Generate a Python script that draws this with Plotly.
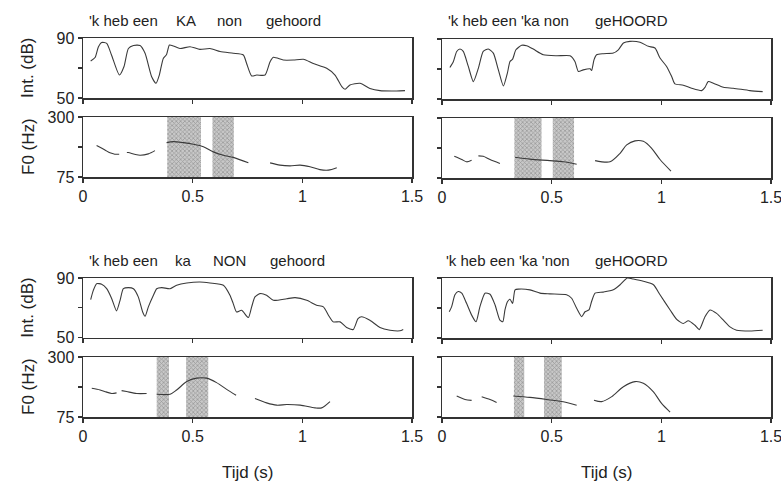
import plotly.graph_objects as go
import numpy as np

W, H = 781, 485

# ---------------- data ----------------
# Panel A (top-left): 'k heb een KA non gehoord
a_int_t = [0.035,0.055,0.07,0.085,0.108,0.13,0.166,0.187,0.207,0.23,0.26,0.283,0.313,0.333,0.348,0.366,0.381,0.394,0.412,0.442,0.488,0.533,0.579,0.625,0.685,0.731,0.746,0.769,0.792,0.83,0.853,0.868,0.913,0.959,1.005,1.05,1.111,1.149,1.18,1.195,1.217,1.263,1.308,1.354,1.43,1.468]
a_int_db = [74.7,77,84,87,86.4,78.7,65.3,71,83,85,85,79.8,64.2,59.8,65.3,76.4,79,85.3,84.7,83,84.2,82.4,83,81,79.8,78.7,73,64.7,65.3,65.3,74.2,77.1,75.3,75.3,75.8,73,69.8,65.3,57.6,55.8,58.7,59.8,56.4,54.9,54.7,54.9]
a_f0_segments = [
    ([0.062,0.1,0.123,0.145,0.165],[155,140,131,127,127]),
    ([0.2,0.207,0.235,0.26,0.298,0.328],[132,132,127,124,128,138]),
    ([0.381,0.412,0.457,0.503,0.549,0.594,0.64,0.685,0.754],[166,170,166,160,151,134,124,118,104]),
    ([0.853,0.898,0.944,0.99,1.035,1.08,1.119,1.157],[104,98.6,97,98.6,95,89,88,93]),
]
a_hatch = [(0.384,0.538),(0.59,0.688)]
a_words = ["'k heb een","KA","non","gehoord"]
a_word_t = [0.183,0.468,0.67,0.958]

# Panel B (top-right): 'k heb een 'ka non geHOORD
b_int_t = [0.036,0.052,0.067,0.082,0.097,0.12,0.143,0.166,0.188,0.211,0.234,0.257,0.28,0.298,0.31,0.322,0.337,0.363,0.386,0.416,0.462,0.523,0.584,0.606,0.622,0.644,0.675,0.682,0.693,0.705,0.736,0.781,0.804,0.827,0.857,0.903,0.941,0.971,0.994,1.024,1.047,1.062,1.1,1.138,1.184,1.199,1.214,1.237,1.283,1.328,1.404,1.462]
b_int_db = [71,75,81.7,83.3,81.7,71.7,61.6,70.6,81.7,83.3,80.6,69.4,58.7,67.2,75,76.6,82.8,85.8,85.5,83.3,79.5,78.8,78.8,75,68.3,69.4,70.1,69,76.1,79.5,80.2,80.6,82.8,87.3,88.4,87.8,85.1,84,77.3,71.7,65,60.1,59.2,57.2,55.6,57.8,61.6,60.5,57.8,57.2,55.6,54.9]
b_f0_segments = [
    ([0.056,0.09,0.112,0.135],[124,115,109,113]),
    ([0.166,0.188,0.219,0.264],[125,124,115,105]),
    ([0.333,0.401,0.492,0.553,0.614],[121,116,112,109,103]),
    ([0.698,0.766,0.811,0.842,0.88,0.918,0.956,0.994,1.044],[112,109,132,161,177,175,149,115,88]),
]
b_hatch = [(0.33,0.454),(0.505,0.602)]
b_words = ["'k heb een 'ka non","geHOORD"]
b_word_t = [0.302,0.865]

# Panel C (bottom-left): 'k heb een ka NON gehoord
c_int_t = [0.035,0.047,0.062,0.085,0.108,0.131,0.153,0.169,0.184,0.207,0.23,0.252,0.272,0.283,0.298,0.321,0.336,0.359,0.397,0.427,0.473,0.533,0.579,0.64,0.67,0.685,0.7,0.723,0.754,0.769,0.784,0.807,0.837,0.868,0.929,0.967,1.02,1.065,1.096,1.119,1.141,1.172,1.202,1.232,1.254,1.27,1.308,1.354,1.4,1.445,1.46]
c_int_db = [75.5,81.7,86.2,85.8,82.8,76.1,67.9,75,82.8,83.5,82.8,77.3,67.2,64.3,70.6,78.4,82.8,83.5,82.8,85.1,86.6,87.3,86.6,85.1,78.4,72.8,67.2,68.3,63.4,70.6,77.3,79.5,78.4,75,76.1,76.8,75,71.7,70.6,65,60.5,60.5,56.7,55.4,62.7,63.9,61.6,56.7,54.9,54.5,55.4]
c_f0_segments = [
    ([0.04,0.078,0.105,0.131,0.153],[145.5,140,134,129,131]),
    ([0.176,0.199,0.245,0.29],[138,135,129,129]),
    ([0.336,0.397,0.427,0.473,0.518,0.564,0.609,0.655,0.698],[127,127,140,170,184,184,166,142,124]),
    ([0.784,0.837,0.883,0.929,0.99,1.058,1.088,1.126],[115,104,98.6,100,98.6,92.6,92.6,107]),
]
c_hatch = [(0.336,0.392),(0.47,0.571)]
c_words = ["'k heb een","ka","NON","gehoord"]
c_word_t = [0.183,0.456,0.67,0.976]

# Panel D (bottom-right): 'k heb een 'ka 'non geHOORD
d_int_t = [0.033,0.044,0.059,0.074,0.09,0.112,0.135,0.155,0.173,0.196,0.219,0.242,0.264,0.277,0.287,0.299,0.31,0.322,0.333,0.348,0.401,0.447,0.492,0.568,0.591,0.614,0.637,0.652,0.67,0.682,0.698,0.736,0.781,0.812,0.845,0.872,0.918,0.964,0.994,1.04,1.07,1.1,1.123,1.153,1.173,1.199,1.222,1.252,1.283,1.313,1.343,1.404,1.462]
d_int_db = [67.5,70.9,78.8,81,79.9,73.1,65.3,60.8,70.9,79.9,79.2,72,61.9,60.8,68.7,74.3,75.8,73.1,82.1,82.6,82.1,79.9,79.4,78.8,76.5,69.8,64.2,67.5,68.7,74.3,79.9,80.6,82.1,85.5,90,89.3,87.8,85.5,78.8,68.7,62.4,59.7,61.5,58.5,55.6,64.2,68.7,66.4,61.9,57.4,55.2,54.7,55.2]
d_f0_segments = [
    ([0.067,0.105,0.135],[122,112.5,110]),
    ([0.181,0.219,0.249],[120,112.5,105]),
    ([0.325,0.401,0.477,0.553,0.614],[122,118,112.5,106.6,98.6]),
    ([0.693,0.728,0.774,0.827,0.88,0.918,0.964,1.002,1.04],[110.7,107,120,151,170,163.5,134,102,84]),
]
d_hatch = [(0.328,0.375),(0.465,0.546)]
d_words = ["'k heb een 'ka 'non","geHOORD"]
d_word_t = [0.302,0.865]

x_ticks = [0, 0.5, 1, 1.5]
x_ticktext = ["0", "0.5", "1", "1.5"]
int_ticks = [50, 70, 90]
int_ticktext = ["50", "", "90"]
f0_ticks = [75, 150, 300]
f0_ticktext = ["75", "", "300"]
x_title = "Tijd (s)"
int_title = "Int. (dB)"
f0_title = "F0 (Hz)"

# ---------------- layout (pixel geometry) ----------------
panels = [
    dict(x0=83, x1=412, int_y=(38, 98), f0_y=(117, 177), text_y=20.5, left=True, bottom=False,
         it=a_int_t, idb=a_int_db, segs=a_f0_segments, hatch=a_hatch, words=a_words, wt=a_word_t),
    dict(x0=442, x1=771, int_y=(39, 99), f0_y=(118, 178), text_y=20.5, left=False, bottom=False,
         it=b_int_t, idb=b_int_db, segs=b_f0_segments, hatch=b_hatch, words=b_words, wt=b_word_t),
    dict(x0=83, x1=412, int_y=(278, 337.5), f0_y=(357, 417), text_y=260.5, left=True, bottom=True,
         it=c_int_t, idb=c_int_db, segs=c_f0_segments, hatch=c_hatch, words=c_words, wt=c_word_t),
    dict(x0=442, x1=771, int_y=(278, 338), f0_y=(357, 417), text_y=260.5, left=False, bottom=True,
         it=d_int_t, idb=d_int_db, segs=d_f0_segments, hatch=d_hatch, words=d_words, wt=d_word_t),
]

FONT = "Liberation Sans, Arial, Helvetica, sans-serif"
LINE = "#333333"
CURVE = "#3a3a3a"

fig = go.Figure()
layout = dict(width=W, height=H, margin=dict(l=0, r=0, t=0, b=0, pad=0, autoexpand=False),
              paper_bgcolor="white", plot_bgcolor="white", showlegend=False,
              font=dict(family=FONT, size=16, color="#222"))
annotations = []

def py(v):
    return 1 - v / H

ax_i = 0
for p in panels:
    xdom = [p["x0"] / W, p["x1"] / W]
    for kind in ("int", "f0"):
        ax_i += 1
        xa = "xaxis" if ax_i == 1 else f"xaxis{ax_i}"
        ya = "yaxis" if ax_i == 1 else f"yaxis{ax_i}"
        xr = "x" if ax_i == 1 else f"x{ax_i}"
        yr = "y" if ax_i == 1 else f"y{ax_i}"
        ylo, yhi = p[kind + "_y"]
        common = dict(showgrid=False, zeroline=False, showline=True, linecolor=LINE, linewidth=1.5,
                      mirror=True, ticks="outside", ticklen=4, tickwidth=1.2, tickcolor=LINE,
                      automargin=False, ticklabeloverflow="allow",
                      tickfont=dict(family=FONT, size=16, color="#222"))
        xaxis = dict(common, domain=xdom, range=[0, 1.5], tickvals=x_ticks, anchor=yr,
                     ticktext=x_ticktext if kind == "f0" else [""] * 4)
        if kind == "int":
            yaxis = dict(common, domain=[py(yhi), py(ylo)], range=[50, 90], tickvals=int_ticks,
                         ticktext=int_ticktext if p["left"] else [""] * 3, anchor=xr)
        else:
            yaxis = dict(common, domain=[py(yhi), py(ylo)], type="log",
                         range=[np.log10(75), np.log10(300)], tickvals=f0_ticks,
                         ticktext=f0_ticktext if p["left"] else [""] * 3, anchor=xr)
        layout[xa] = xaxis
        layout[ya] = yaxis

        if kind == "int":
            fig.add_trace(go.Scatter(x=p["it"], y=p["idb"], mode="lines", xaxis=xr, yaxis=yr,
                                     line=dict(color=CURVE, width=1.1, shape="spline", smoothing=0.6),
                                     hoverinfo="skip"))
            for w, t in zip(p["words"], p["wt"]):
                annotations.append(dict(text=w, x=t, xref=xr, y=py(p["text_y"]), yref="paper",
                                        showarrow=False, xanchor="center", yanchor="middle",
                                        font=dict(family=FONT, size=15, color="#222")))
            if p["left"]:
                annotations.append(dict(text=int_title, x=28 / W, xref="paper",
                                        y=py((ylo + yhi) / 2), yref="paper", textangle=-90,
                                        xanchor="center", yanchor="middle",
                                        showarrow=False, font=dict(family=FONT, size=17, color="#222")))
        else:
            for (h0, h1) in p["hatch"]:
                fig.add_trace(go.Scatter(x=[h0, h0, h1, h1, h0], y=[75, 300, 300, 75, 75],
                                         mode="lines", fill="toself", xaxis=xr, yaxis=yr,
                                         line=dict(width=0, color="rgba(0,0,0,0)"),
                                         fillcolor="#b8b8b8",
                                         fillpattern=dict(shape="x", size=3, solidity=0.45,
                                                          fgcolor="#6e6e6e", bgcolor="#c8c8c8"),
                                         hoverinfo="skip"))
            for (st, sf) in p["segs"]:
                fig.add_trace(go.Scatter(x=st, y=sf, mode="lines", xaxis=xr, yaxis=yr,
                                         line=dict(color=CURVE, width=1.1, shape="spline", smoothing=0.8),
                                         hoverinfo="skip"))
            if p["left"]:
                annotations.append(dict(text=f0_title, x=28 / W, xref="paper",
                                        y=py((ylo + yhi) / 2), yref="paper", textangle=-90,
                                        xanchor="center", yanchor="middle",
                                        showarrow=False, font=dict(family=FONT, size=17, color="#222")))
            if p["bottom"]:
                annotations.append(dict(text=x_title, x=(p["x0"] + p["x1"]) / 2 / W, xref="paper",
                                        y=py(472), yref="paper", showarrow=False,
                                        xanchor="center", yanchor="middle",
                                        font=dict(family=FONT, size=17, color="#222")))

layout["annotations"] = annotations
fig.update_layout(**layout)
fig.write_html("out.html",
               config={"displayModeBar": False, "staticPlot": True},
               post_script="document.body.style.margin='0';document.body.style.padding='0';"
                           "document.documentElement.style.overflow='hidden';"
                           "document.body.style.overflow='hidden';")
